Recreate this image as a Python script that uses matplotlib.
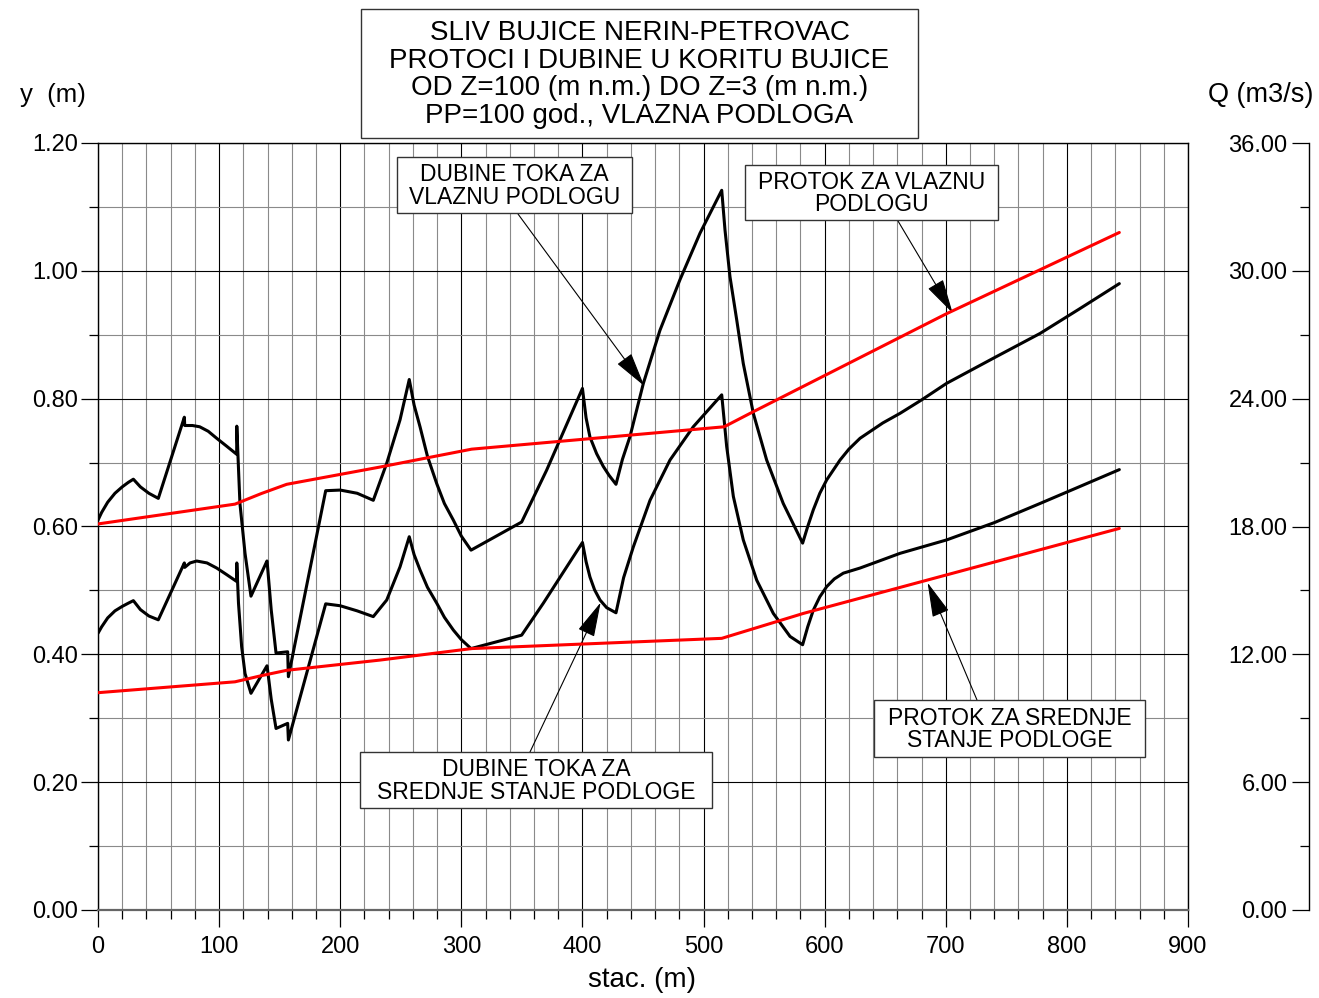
import numpy as np
import matplotlib
matplotlib.use("Agg")
import matplotlib.pyplot as plt
from matplotlib.patches import Rectangle
from matplotlib.ticker import MultipleLocator, FormatStrFormatter

plt.rcParams['font.family'] = ['Liberation Sans', 'DejaVu Sans']

# dubine toka - vlazna podloga (m)
x_dub_vl = [0, 3, 8, 14, 20, 25, 29.2, 35, 42, 49.8, 71.3, 71.6, 78, 84, 91, 98, 106,
            114.5, 114.6, 115.8, 117.2, 121.4, 126.3, 139.5, 139.6, 143, 147, 156.6,
            157.2, 188, 200, 214, 227.3, 238.4, 249.4, 257, 261, 265.9, 272, 279.7, 286,
            293.4, 300, 308, 349.8, 370.4, 400, 403, 406.2, 411.7, 417.2, 422, 427.7,
            433, 439.3, 450.3, 464, 480.5, 497.1, 515, 517.7, 521.8, 527.4, 532.8, 541.1,
            552.1, 565.8, 581.8, 586, 590.6, 596, 601.7, 612.7, 620, 629.2, 648, 662.2,
            680, 700.7, 740, 777.8, 810, 843.3]
y_dub_vl = [0.610, 0.622, 0.638, 0.652, 0.662, 0.669, 0.674, 0.662, 0.652, 0.644, 0.771,
            0.758, 0.758, 0.756, 0.749, 0.738, 0.726, 0.713, 0.757, 0.700, 0.636, 0.558,
            0.491, 0.546, 0.546, 0.470, 0.402, 0.404, 0.365, 0.656, 0.657, 0.652, 0.641,
            0.699, 0.767, 0.830, 0.790, 0.756, 0.710, 0.667, 0.636, 0.610, 0.585, 0.563,
            0.607, 0.688, 0.816, 0.770, 0.740, 0.714, 0.694, 0.680, 0.666, 0.705, 0.741,
            0.824, 0.907, 0.986, 1.059, 1.126, 1.064, 0.991, 0.923, 0.855, 0.777, 0.704,
            0.636, 0.574, 0.600, 0.626, 0.652, 0.673, 0.704, 0.721, 0.738, 0.762, 0.777,
            0.798, 0.824, 0.864, 0.902, 0.940, 0.980]

# dubine toka - srednje stanje podloge (m)
x_dub_sr = [0, 3, 8, 14, 20, 25, 29.2, 35, 42, 49.8, 71.3, 71.6, 76, 81.5, 90, 98, 106,
            114.5, 114.6, 116, 118.6, 121.4, 126.3, 139.5, 139.6, 143, 147, 156.6, 157.2,
            188, 200, 214, 227.3, 238.4, 249.4, 257, 261, 265.9, 272, 279.7, 286, 293.4,
            300, 308, 349.8, 367.7, 400, 403, 406.2, 410, 414.5, 420, 427.7, 434, 442,
            455.8, 472.3, 491.5, 515, 519.1, 524.6, 532.8, 543.9, 557.6, 571.4, 581.8,
            586, 590.6, 596, 601.7, 608, 615.4, 629.2, 645, 662.2, 700.7, 740, 777.8,
            810, 843.3]
y_dub_sr = [0.433, 0.443, 0.457, 0.468, 0.475, 0.480, 0.484, 0.470, 0.460, 0.454, 0.543,
            0.536, 0.543, 0.546, 0.543, 0.535, 0.525, 0.514, 0.543, 0.480, 0.412, 0.370,
            0.339, 0.382, 0.382, 0.330, 0.284, 0.292, 0.266, 0.479, 0.476, 0.468, 0.459,
            0.485, 0.537, 0.584, 0.556, 0.532, 0.505, 0.480, 0.458, 0.438, 0.423, 0.409,
            0.430, 0.480, 0.575, 0.545, 0.521, 0.501, 0.485, 0.473, 0.465, 0.520, 0.568,
            0.641, 0.704, 0.756, 0.806, 0.725, 0.647, 0.579, 0.516, 0.464, 0.428, 0.415,
            0.443, 0.469, 0.490, 0.506, 0.518, 0.527, 0.535, 0.546, 0.558, 0.579, 0.606,
            0.636, 0.662, 0.689]

# protoci (m3/s)
x_q_vl = [0, 113.1, 135, 155.8, 232.8, 308.5, 517, 538.4, 700.7, 843.3]
q_vl = [18.12, 19.05, 19.55, 19.98, 20.79, 21.63, 22.68, 23.31, 27.99, 31.80]
x_q_sr = [0, 113.1, 135, 155.8, 232.8, 308.5, 515, 582.4, 843.3]
q_sr = [10.20, 10.71, 11.00, 11.25, 11.73, 12.27, 12.75, 13.92, 17.91]

W, H = 1319, 998
fig = plt.figure(figsize=(W / 100, H / 100), dpi=100)

x0, x1, ytop, ybot = 98, 1188, 143, 910
ax = fig.add_axes([x0 / W, 1 - ybot / H, (x1 - x0) / W, (ybot - ytop) / H])
ax.set_xlim(0, 900)
ax.set_ylim(0, 1.2)
ax.xaxis.set_major_locator(MultipleLocator(100))
ax.xaxis.set_minor_locator(MultipleLocator(20))
ax.yaxis.set_major_locator(MultipleLocator(0.2))
ax.yaxis.set_minor_locator(MultipleLocator(0.1))
ax.yaxis.set_major_formatter(FormatStrFormatter('%.2f'))
ax.grid(which='major', color='black', lw=0.8)
ax.grid(which='minor', color='#8a8a8a', lw=0.8)
ax.set_axisbelow(True)
ax.tick_params(which='major', direction='out', length=12.5, width=0.9, labelsize=17)
ax.tick_params(which='minor', direction='out', length=6.5, width=0.9)
ax.tick_params(axis='x', which='major', pad=6)
ax.tick_params(axis='y', which='major', pad=2)
for s in ax.spines.values():
    s.set_linewidth(1.0)
ax.spines['bottom'].set_color('#666666')
ax.spines['bottom'].set_linewidth(1.6)

line_kw = dict(lw=2.2, solid_joinstyle='round', solid_capstyle='round')
ax.plot(x_dub_vl, y_dub_vl, color='black', zorder=4, **line_kw)
ax.plot(x_dub_sr, y_dub_sr, color='black', zorder=4, **line_kw)

axq = ax.twinx()
axq.set_ylim(0, 36)
axq.axis('off')
axq.plot(x_q_vl, q_vl, color='#ff0000', zorder=3, **line_kw)
axq.plot(x_q_sr, q_sr, color='#ff0000', zorder=3, **line_kw)

# desna skala za protoke
qx = 1309
axs = fig.add_axes([qx / W, 1 - ybot / H, 0.0001, (ybot - ytop) / H])
axs.set_ylim(0, 36)
axs.patch.set_visible(False)
for k in ('top', 'right', 'bottom'):
    axs.spines[k].set_visible(False)
axs.spines['left'].set_linewidth(1.0)
axs.set_xticks([])
axs.yaxis.set_major_locator(MultipleLocator(6))
axs.yaxis.set_minor_locator(MultipleLocator(3))
axs.yaxis.set_major_formatter(FormatStrFormatter('%.2f'))
axs.tick_params(which='major', direction='out', length=12.5, width=0.9, labelsize=17, pad=3)
axs.tick_params(which='minor', direction='out', length=6.5, width=0.9)


def fx(px):
    return px / W


def fy(py):
    return 1 - py / H


fig.text(fx(20), fy(95), 'y  (m)', fontsize=18.5, va='center', ha='left')
fig.text(fx(1313), fy(95), 'Q (m3/s)', fontsize=19.5, va='center', ha='right')
fig.text(fx(642), fy(980), 'stac. (m)', fontsize=20, va='center', ha='center')

boxes = [
    ((361, 9, 918, 138), 'SLIV BUJICE NERIN-PETROVAC\nPROTOCI I DUBINE U KORITU BUJICE\n'
     'OD Z=100 (m n.m.) DO Z=3 (m n.m.)\nPP=100 god., VLAZNA PODLOGA', 20, 1.09),
    ((397, 157, 632, 213), 'DUBINE TOKA ZA\nVLAZNU PODLOGU', 16.5, 0.97),
    ((745, 165, 998, 220), 'PROTOK ZA VLAZNU\nPODLOGU', 16.5, 0.97),
    ((360, 752, 712, 808), 'DUBINE TOKA ZA\nSREDNJE STANJE PODLOGE', 16.5, 0.97),
    ((874, 700, 1145, 757), 'PROTOK ZA SREDNJE\nSTANJE PODLOGE', 16.5, 0.97),
]
for (l, t, r, b), txt, fs, ls in boxes:
    fig.patches.append(Rectangle((fx(l), fy(b)), (r - l) / W, (b - t) / H,
                                 transform=fig.transFigure, facecolor='white',
                                 edgecolor='#333333', lw=1.0, zorder=5))
    fig.text(fx((l + r) / 2), fy((t + b) / 2 + 1), txt, fontsize=fs, ha='center',
             va='center', linespacing=ls, zorder=6)

arrows = [((518, 214), (451, 0.82)),
          ((898, 221), (705.7, 0.934)),
          ((530, 752), (415, 0.481)),
          ((977, 700), (685, 0.512))]
for (sx, sy), tip in arrows:
    ax.annotate('', xy=tip, xycoords='data', xytext=(sx, H - sy),
                textcoords='figure pixels', zorder=7,
                arrowprops=dict(arrowstyle='-|>,head_length=1.1,head_width=0.28',
                                mutation_scale=20, color='black', lw=0.8,
                                shrinkA=0, shrinkB=0))

fig.savefig('out.png', dpi=100)
